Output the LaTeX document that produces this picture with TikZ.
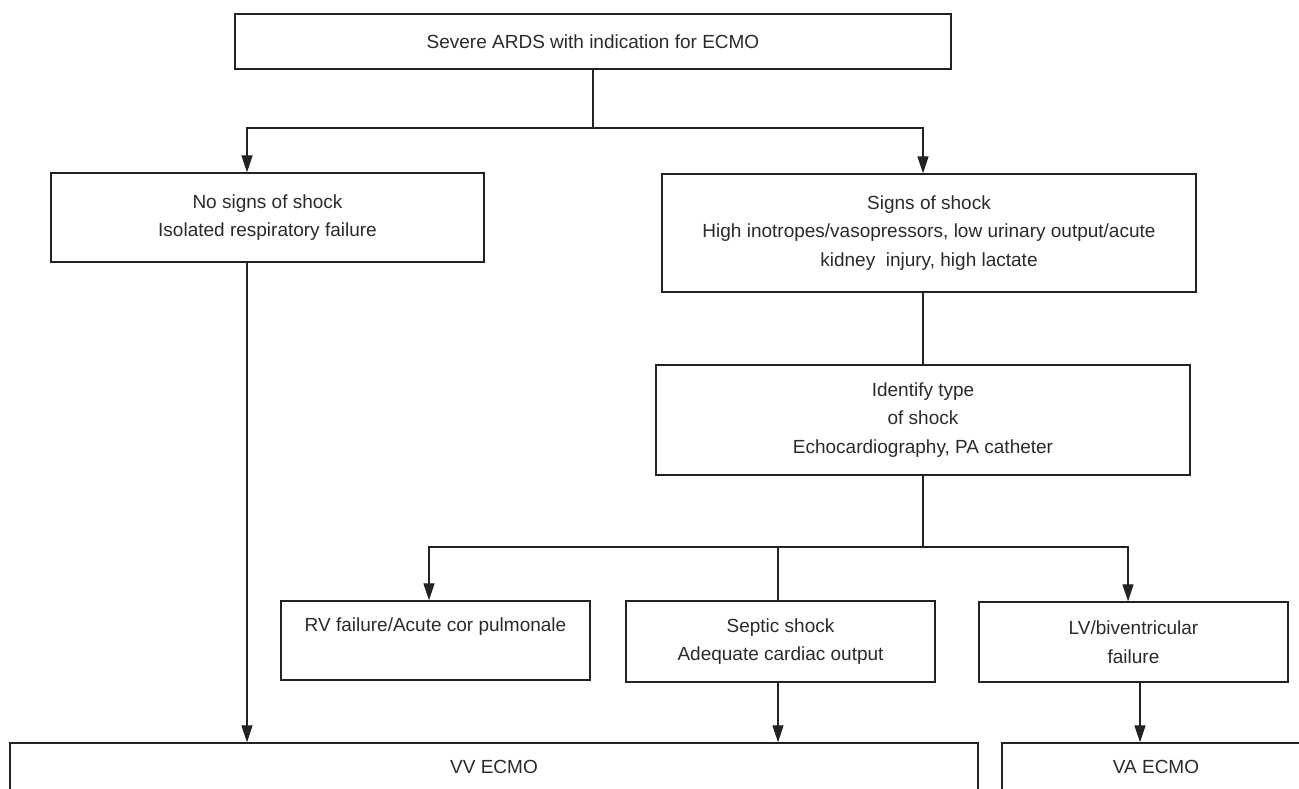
\documentclass[tikz,border=0pt]{standalone}
\usepackage{fontspec}
\setmainfont{Liberation Sans}
\usetikzlibrary{arrows.meta}
\definecolor{ink}{HTML}{222222}
\definecolor{txt}{HTML}{2A2A2A}
\tikzset{
  box/.style={draw=ink, line width=1.4pt, inner sep=0pt, align=center, text=txt,
    font=\fontsize{19}{28.5}\selectfont},
  conn/.style={draw=ink, line width=1.3pt},
  arr/.style={conn, -{Triangle[length=17pt,width=11pt]}},
}
\begin{document}
\begin{tikzpicture}[x=1pt,y=-1pt]
\useasboundingbox (0,0) rectangle (1299,789);
\clip (0,0) rectangle (1299,789);
% boxes (centre, size)
\node[box, minimum width=716pt, minimum height=55pt] (top) at (593,41.5) {Severe ARDS with indication for ECMO};
\node[box, minimum width=433pt, minimum height=89pt] (left) at (267.5,217.5) {No signs of shock\\Isolated respiratory failure};
\node[box, minimum width=534pt, minimum height=118pt] (right) at (929,233) {Signs of shock\\High inotropes/vasopressors, low urinary output/acute\\kidney\ \ injury, high lactate};
\node[box, minimum width=534pt, minimum height=110pt] (mid) at (923,420) {Identify type\\of shock\\Echocardiography, PA catheter};
\node[box, minimum width=309pt, minimum height=79pt] (rv) at (435.5,640.5) {RV failure/Acute cor pulmonale\\\phantom{Ag}};
\node[box, minimum width=309pt, minimum height=81pt] (sep) at (780.5,641.5) {Septic shock\\Adequate cardiac output};
\node[box, minimum width=309pt, minimum height=80pt] (lv) at (1133.5,642) {LV/biventricular\\failure};
\node[box, minimum width=968pt, minimum height=48pt] (vv) at (494,767) {VV ECMO};
\node[box, minimum width=308pt, minimum height=48pt] (va) at (1156,767) {VA ECMO};
% connector positions
\coordinate (b1L) at (247,128);
\coordinate (b1R) at (923,128);
\coordinate (b2) at (923,547);
\coordinate (xrv) at (429,547);
\coordinate (xsep) at (778,547);
\coordinate (xlv) at (1128,547);
\coordinate (xva) at (1140,700);
% connectors
\draw[conn] (top.south) -- (top.south |- b1L);
\draw[arr] (top.south |- b1L) -| (b1L |- left.north);
\draw[arr] (top.south |- b1R) -| (b1R |- right.north);
\draw[conn] (mid.north) -- (mid.north |- right.south);
\draw[conn] (mid.south) -- (b2);
\draw[arr] (b2) -| (xrv |- rv.north);
\draw[arr] (b2) -| (xlv |- lv.north);
\draw[conn] (xsep) -- (xsep |- sep.north);
\draw[arr] (b1L |- left.south) -- (b1L |- vv.north);
\draw[arr] (xsep |- sep.south) -- (xsep |- vv.north);
\draw[arr] (xva |- lv.south) -- (xva |- va.north);
\end{tikzpicture}
\end{document}
